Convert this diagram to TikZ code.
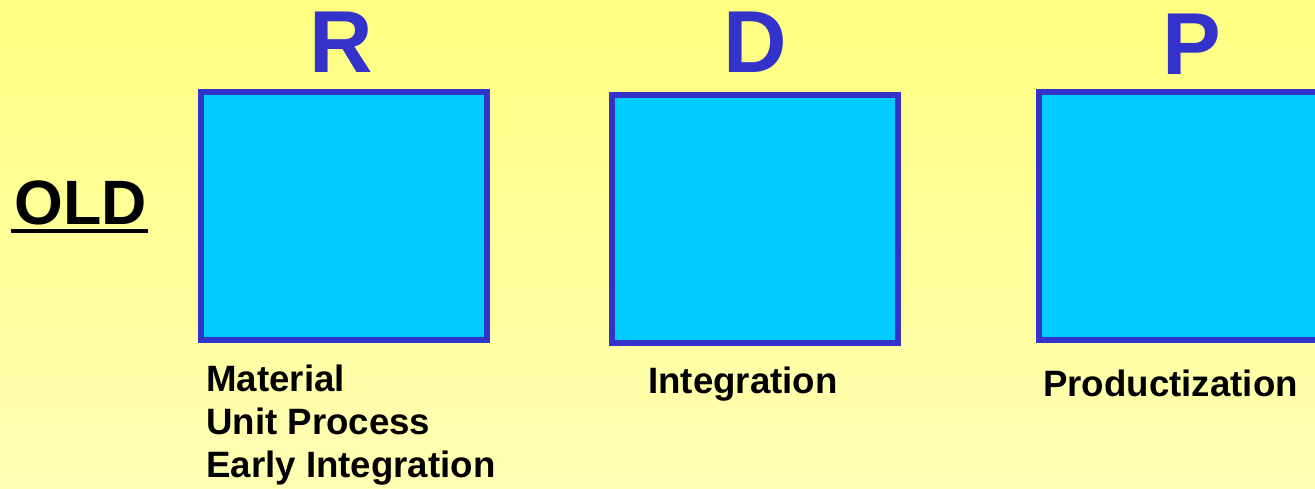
\documentclass[tikz,border=0pt]{standalone}
\usepackage{fontspec}
\setmainfont{Liberation Sans}
\usetikzlibrary{positioning}

\definecolor{paleyellow}{RGB}{255,255,128}
\definecolor{creamyellow}{RGB}{255,255,180}
\definecolor{boxcyan}{RGB}{0,204,255}
\definecolor{stageblue}{RGB}{51,51,204}

\tikzset{
    stage/.style={draw=stageblue, fill=boxcyan, line width=4.5pt,
        minimum width=214.5pt, minimum height=186pt, inner sep=0pt},
    letter/.style={anchor=base, inner sep=0pt, text=stageblue,
        font=\fontsize{66}{66}\selectfont\bfseries},
    note/.style={inner sep=0pt, align=left,
        font=\fontsize{27.5}{32}\selectfont\bfseries}
}

\begin{document}
\begin{tikzpicture}[x=0.75pt,y=-0.75pt]

    \useasboundingbox (0,0) rectangle (1315,489);
    \shade[top color=paleyellow, bottom color=creamyellow] (0,0) rectangle (1315,489);

    % the three stages
    \node[stage] (R) at (344,216) {};
    \node[stage] (D) at (755,219) {};
    \node[stage] (P) at (1182,216) {};

    \node[letter] (Rl) at (341,72) {R};
    \node[letter] (Dl) at (755,72) {D};
    \node[letter] (Pl) at (1192,74) {P};

    % row title
    \node[anchor=base west, inner sep=0pt, font=\fontsize{47}{47}\selectfont\bfseries]
        (old) at (14,224) {OLD};
    \draw[line width=3pt] ([xshift=-2pt,yshift=-5.5pt]old.base west)
        -- ([xshift=1pt,yshift=-5.5pt]old.base east);

    % what each stage covers
    \node[note, anchor=north west] (Rnote) at (206,365)
        {Material\\Unit Process\\Early Integration};
    \node[note, anchor=base west] (Dnote) at (648,393) {Integration};
    \node[note, anchor=base west] (Pnote) at (1043,396) {Productization};

\end{tikzpicture}
\end{document}
